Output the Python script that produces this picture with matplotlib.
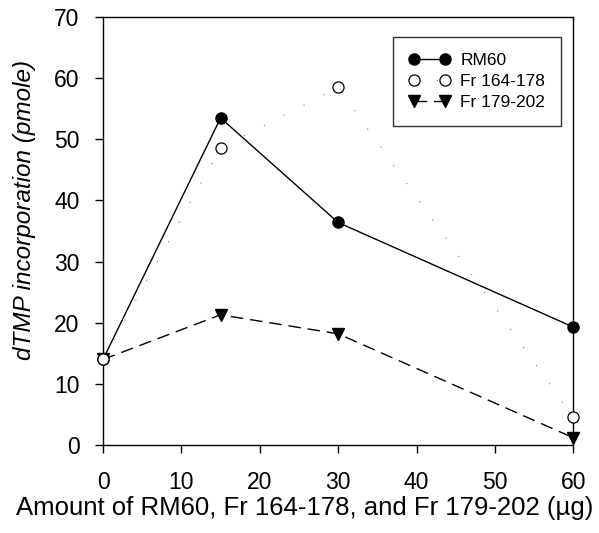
import matplotlib
matplotlib.use("Agg")
import matplotlib.pyplot as plt

plt.rcParams['font.family'] = ['Liberation Sans', 'DejaVu Sans']

x = [0, 15, 30, 60]
rm60 = [14, 53.5, 36.4, 19.3]
fr164 = [14, 48.6, 58.5, 4.6]
fr179 = [14, 21.3, 18.2, 1.2]
xticks = [0, 10, 20, 30, 40, 50, 60]
yticks = [0, 10, 20, 30, 40, 50, 60, 70]

fig = plt.figure(figsize=(5.99, 5.33), dpi=100)
ax = fig.add_axes([0.172, 0.165, 0.785, 0.803])

ax.plot(x, rm60, color='black', lw=1.0, marker='o', ms=8, mfc='black', mec='black', label='RM60', zorder=3)
ax.plot(x, fr164, color='#555555', lw=0.7, ls=(0, (1, 22)), marker='o', ms=8, mfc='white', mec='black', mew=0.9, label='Fr 164-178', zorder=4)
ax.plot(x, fr179, color='black', lw=1.0, ls=(0, (9, 5)), marker='v', ms=9, mfc='black', mec='black', label='Fr 179-202', zorder=3)

ax.set_xlim(0, 60)
ax.set_ylim(0, 70)
ax.set_xticks(xticks)
ax.set_yticks(yticks)
ax.tick_params(direction='out', length=6, width=1, labelsize=16.5)
ax.tick_params(axis='x', pad=13)
ax.tick_params(axis='y', pad=11)
for s in ax.spines.values():
    s.set_linewidth(1.0)
for p in ax.get_lines():
    p.set_clip_on(False)

ax.set_xlabel('Amount of RM60, Fr 164-178, and Fr 179-202 (\u00b5g)', fontsize=18.5)
ax.xaxis.set_label_coords(0.428, -0.118)
ax.xaxis.label.set_va('top')
ax.set_ylabel('dTMP incorporation (pmole)', fontsize=17.5, style='italic')
ax.yaxis.set_label_coords(-0.168, 0.55)
ax.yaxis.label.set_va('center')

leg = ax.legend(loc='upper right', bbox_to_anchor=(0.985, 0.965), fontsize=12.5, frameon=True,
                fancybox=False, edgecolor='black', handlelength=2.4, borderpad=0.9,
                labelspacing=0.35, handletextpad=0.6, borderaxespad=0.3, numpoints=2,
                markerscale=1.0)
leg.get_frame().set_linewidth(1.0)

fig.savefig('out.png', dpi=100)
